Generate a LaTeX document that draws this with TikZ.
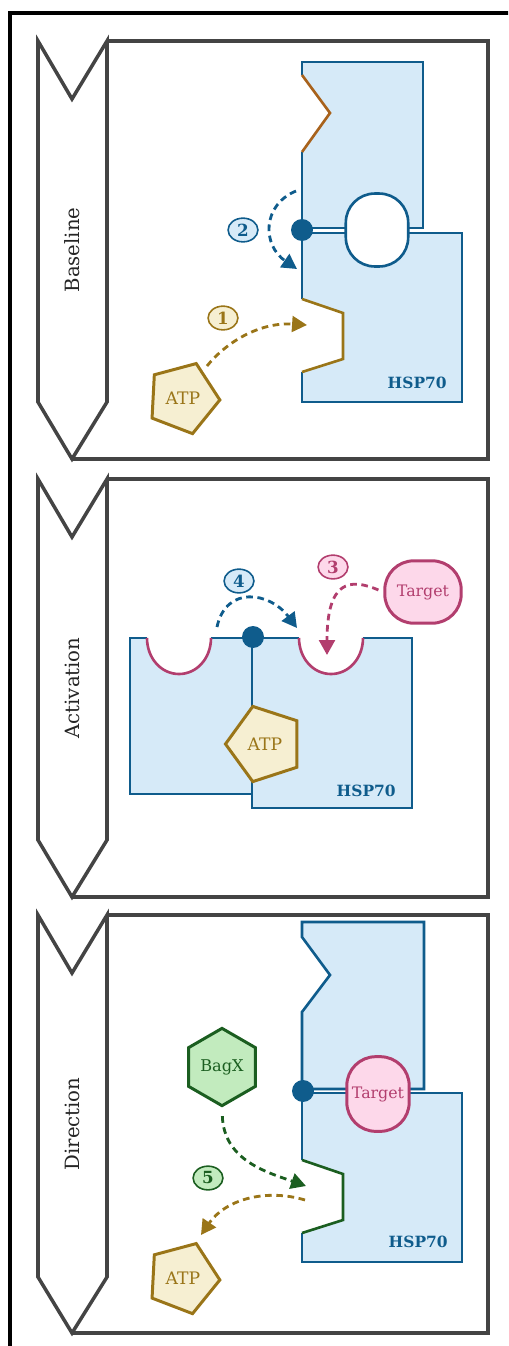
\documentclass[tikz,border=0pt]{standalone}
\usepackage{fontspec}
\setmainfont{DejaVu Serif}
\usetikzlibrary{shapes.geometric, arrows.meta}

\definecolor{panelGray}{HTML}{444444}
\definecolor{hspBlue}{HTML}{0F5C8C}
\definecolor{hspFill}{HTML}{D6EAF8}
\definecolor{atpGold}{HTML}{9A7518}
\definecolor{atpFill}{HTML}{F6EFD2}
\definecolor{zigBrown}{HTML}{A8621C}
\definecolor{tgtMagenta}{HTML}{B23E6E}
\definecolor{tgtFill}{HTML}{FDD8EA}
\definecolor{bagGreen}{HTML}{1B5E20}
\definecolor{bagFill}{HTML}{C2EBBE}

\begin{document}
\begin{tikzpicture}[
  x=0.02cm, y=-0.02cm,
  frame/.style={draw=black, line width=2pt},
  panel/.style={draw=panelGray, line width=2pt, line join=miter},
  title/.style={rotate=90, text=black!85, font=\fontsize{11.2}{13}\selectfont},
  edge/.style={draw=hspBlue, line width=1.5pt},
  hinge/.style={circle, fill=hspBlue, minimum size=12.5pt, inner sep=0pt},
  pocket/.style={rectangle, rounded corners=16.5pt, draw=hspBlue, line width=1.5pt, fill=white, minimum width=35.5pt, minimum height=41.5pt},
  hsplabel/.style={anchor=east, inner sep=0pt, text=hspBlue, font=\fontsize{8.8}{9}\selectfont\bfseries},
  atp/.style={regular polygon, regular polygon sides=5, draw=atpGold, line width=1.7pt, fill=atpFill, text=atpGold, minimum size=42pt, inner sep=0pt, font=\fontsize{9.8}{11}\selectfont},
  target/.style={rectangle, rounded corners=16.5pt, draw=tgtMagenta, line width=1.7pt, fill=tgtFill, text=tgtMagenta, inner sep=0pt, font=\fontsize{9}{10}\selectfont},
  bagx/.style={regular polygon, regular polygon sides=6, shape border rotate=30, draw=bagGreen, line width=1.7pt, fill=bagFill, text=bagGreen, minimum size=44pt, inner sep=0pt, font=\fontsize{9.2}{10}\selectfont},
  stepnum/.style={ellipse, draw=#1, text=#1, line width=0.9pt, minimum width=17pt, minimum height=13.5pt, inner sep=0pt, font=\fontsize{9.5}{10}\selectfont\bfseries},
  flow/.style={line width=1.6pt, dash pattern=on 3.8pt off 2.6pt, -{Triangle[length=8.5pt, width=9pt]}}
]
\useasboundingbox (0,0) rectangle (508,1346);
\clip (0,0) rectangle (508,1346);

% === OUTER FRAME ===
\draw[frame] (10,13) rectangle (540,1380);

% === PANEL 1: BASELINE ===
\draw[panel] (107,41) -- (488,41) -- (488,459) -- (72,459);
\draw[panel] (38,41) -- (72,99) -- (107,41) -- (107,402) -- (72,459) -- (38,402) -- cycle;
\node[title] (baseline) at (72,250) {Baseline};

% lower lobe with nucleotide site
\fill[hspFill] (302,233) -- (462,233) -- (462,402) -- (302,402) -- (302,372) -- (343,359) -- (343,313) -- (302,299) -- cycle;
\draw[edge] (302,299) -- (302,233) -- (462,233) -- (462,402) -- (302,402) -- (302,372);
\draw[edge, draw=atpGold] (302,372) -- (343,359) -- (343,313) -- (302,299);
% upper lobe with lid
\fill[hspFill] (302,62) -- (423,62) -- (423,228) -- (302,228) -- (302,152) -- (330,113) -- (302,75) -- cycle;
\draw[edge] (302,75) -- (302,62) -- (423,62) -- (423,228) -- (302,228) -- (302,152);
\draw[edge, draw=zigBrown] (302,152) -- (330,113) -- (302,75);

\node[pocket] (pocket1) at (377,230) {};
\node[hinge] (hinge1) at (302,230) {};
\node[hsplabel] (hsp1) at (447,383) {HSP70};
\node[atp, shape border rotate=-93] (atp1) at (183,398) {ATP};

\coordinate (atpOut1) at (207,366);
\coordinate (site1) at (307,325);
\coordinate (lidTop1) at (296,191);
\coordinate (lidBot1) at (297,269);
\draw[flow, atpGold] (atpOut1) .. controls (228,340) and (262,322) .. (site1);
\draw[flow, hspBlue] (lidTop1) .. controls (262,205) and (262,245) .. (lidBot1);
\node[stepnum=atpGold, fill=atpFill] (step1) at (223,318) {1};
\node[stepnum=hspBlue, fill=hspFill] (step2) at (243,230) {2};

% === PANEL 2: ACTIVATION ===
\draw[panel] (107,479) -- (488,479) -- (488,897) -- (72,897);
\draw[panel] (38,479) -- (72,537) -- (107,479) -- (107,840) -- (72,897) -- (38,840) -- cycle;
\node[title] (activation) at (72,688) {Activation};

% right lobe
\fill[hspFill] (252,638) -- (299,638) .. controls (299,658) and (313,674) .. (331,674) .. controls (349,674) and (363,658) .. (363,638) -- (412,638) -- (412,808) -- (252,808) -- cycle;
\draw[edge] (299,638) -- (252,638) -- (252,808) -- (412,808) -- (412,638) -- (363,638);
\draw[edge, draw=tgtMagenta] (299,638) .. controls (299,658) and (313,674) .. (331,674) .. controls (349,674) and (363,658) .. (363,638);
% left lobe
\fill[hspFill] (130,638) -- (147,638) .. controls (147,658) and (161,674) .. (179,674) .. controls (197,674) and (211,658) .. (211,638) -- (252,638) -- (252,794) -- (130,794) -- cycle;
\draw[edge] (211,638) -- (252,638) -- (252,794) -- (130,794) -- (130,638) -- (147,638);
\draw[edge, draw=tgtMagenta] (147,638) .. controls (147,658) and (161,674) .. (179,674) .. controls (197,674) and (211,658) .. (211,638);

\node[hinge] (hinge2) at (253,637) {};
\node[atp, minimum size=45pt, shape border rotate=90] (atp2) at (265,744) {ATP};
\node[hsplabel] (hsp2) at (396,791) {HSP70};
\node[target, minimum width=43.5pt, minimum height=35.5pt] (target2) at (423,592) {Target};

\coordinate (swingStart) at (217,627);
\coordinate (swingEnd) at (297,628);
\coordinate (cup2) at (327,655);
\draw[flow, hspBlue] (swingStart) .. controls (226,585) and (270,592) .. (swingEnd);
\draw[flow, tgtMagenta, shorten <=3pt] (target2.west) .. controls (350,578) and (327,580) .. (cup2);
\node[stepnum=tgtMagenta, fill=tgtFill] (step3) at (333,567) {3};
\node[stepnum=hspBlue, fill=hspFill] (step4) at (239,581) {4};

% === PANEL 3: DIRECTION ===
\draw[panel] (107,915) -- (488,915) -- (488,1333) -- (72,1333);
\draw[panel] (38,915) -- (72,973) -- (107,915) -- (107,1277) -- (72,1333) -- (38,1277) -- cycle;
\node[title] (direction) at (72,1124) {Direction};

% lower lobe with exchange site
\fill[hspFill] (302,1093) -- (462,1093) -- (462,1262) -- (302,1262) -- (302,1233) -- (343,1220) -- (343,1174) -- (302,1160) -- cycle;
\draw[edge] (302,1160) -- (302,1093) -- (462,1093) -- (462,1262) -- (302,1262) -- (302,1233);
\draw[edge, draw=bagGreen] (302,1233) -- (343,1220) -- (343,1174) -- (302,1160);
% upper lobe, lid closed
\fill[hspFill] (302,922) -- (424,922) -- (424,1089) -- (302,1089) -- (302,1012) -- (330,975) -- (302,937) -- cycle;
\draw[edge] (302,1089) -- (424,1089) -- (424,922) -- (302,922) -- (302,937) -- (330,975) -- (302,1012) -- cycle;

\node[target, minimum width=35.5pt, minimum height=42.5pt] (target3) at (378,1094) {Target};
\node[hinge] (hinge3) at (303,1091) {};
\node[hsplabel] (hsp3) at (448,1242) {HSP70};
\node[bagx] (bagx3) at (222,1067) {BagX};
\node[atp, shape border rotate=-93] (atp3) at (183,1278) {ATP};

\coordinate (site3) at (306,1186);
\coordinate (siteOut3) at (305,1200);
\coordinate (atpIn3) at (201,1235);
\draw[flow, bagGreen, shorten <=5pt] (bagx3.south) .. controls (224,1160) and (266,1172) .. (site3);
\draw[flow, atpGold] (siteOut3) .. controls (265,1188) and (225,1200) .. (atpIn3);
\node[stepnum=bagGreen, fill=bagFill] (step5) at (208,1178) {5};

\end{tikzpicture}
\end{document}
